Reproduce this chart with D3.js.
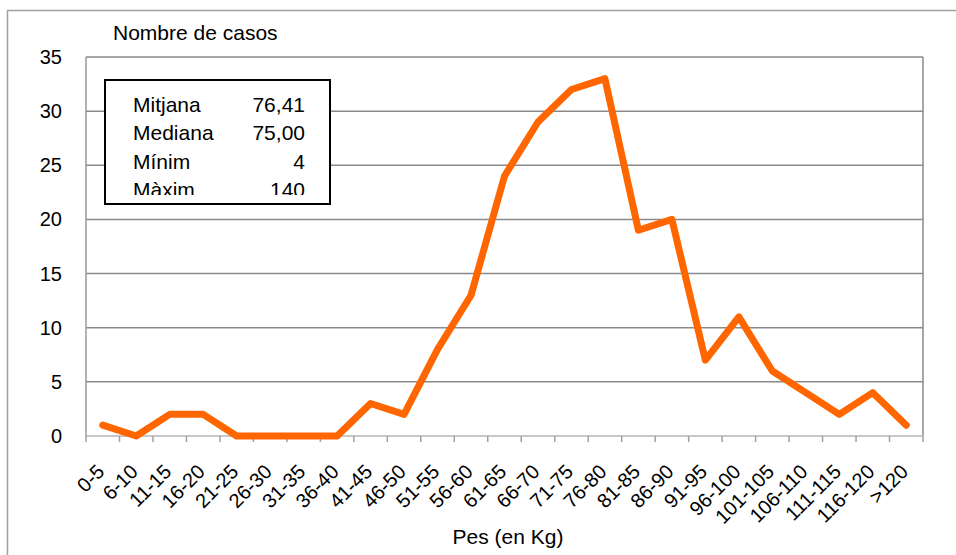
<!DOCTYPE html>
<html>
<head>
<meta charset="utf-8">
<script src="https://cdn.jsdelivr.net/npm/d3@7/dist/d3.min.js"></script>
<style>
  html, body { margin: 0; padding: 0; background: #fff; }
  svg { display: block; font-family: "Liberation Sans", Arial, sans-serif; }
</style>
</head>
<body>
<svg id="chart" width="956" height="555"></svg>
<script>
// Weight classes (kg) and number of cases in each
const categories = ["0-5","6-10","11-15","16-20","21-25","26-30","31-35","36-40","41-45","46-50",
  "51-55","56-60","61-65","66-70","71-75","76-80","81-85","86-90","91-95","96-100",
  "101-105","106-110","111-115","116-120",">120"];
const cases = [1,0,2,2,0,0,0,0,3,2,8,13,24,29,32,33,19,20,7,11,6,4,2,4,1];
const yTicks = [0,5,10,15,20,25,30,35];

// Summary statistics shown in the inset box
const statLabels = ["Mitjana","Mediana","Mínim","Màxim"];
const statValues = ["76,41","75,00","4","140"];

const svg = d3.select("#chart");
const plot = { left: 86, right: 923, top: 57, bottom: 436 };

// outer chart frame
svg.append("rect")
  .attr("x", 7.5).attr("y", 10.5).attr("width", 960).attr("height", 560)
  .attr("fill", "none").attr("stroke", "#a0a0a0").attr("stroke-width", 1.5);

const x = d3.scaleBand().domain(categories).range([plot.left, plot.right]).padding(0);
const y = d3.scaleLinear().domain([0, 35]).range([plot.bottom, plot.top]);

// horizontal gridlines
svg.append("g").selectAll("line").data(yTicks.filter(d => d > 0)).join("line")
  .attr("x1", plot.left).attr("x2", plot.right)
  .attr("y1", d => y(d)).attr("y2", d => y(d))
  .attr("stroke", "#8a8a8a").attr("stroke-width", 1.5);

// right border of the plot area
svg.append("line")
  .attr("x1", plot.right).attr("x2", plot.right).attr("y1", plot.top).attr("y2", plot.bottom)
  .attr("stroke", "#8a8a8a").attr("stroke-width", 1.5);

// left axis line
svg.append("line")
  .attr("x1", plot.left).attr("x2", plot.left).attr("y1", plot.top).attr("y2", plot.bottom + 0.5)
  .attr("stroke", "#9a9a9a").attr("stroke-width", 1.5);

// y tick labels
svg.append("g").selectAll("text").data(yTicks).join("text")
  .attr("x", 62).attr("y", d => y(d) + 7)
  .attr("text-anchor", "end").attr("font-size", 20).attr("fill", "#000")
  .text(d => d);

// bottom axis with ticks at class boundaries
const bounds = categories.map(c => x(c)).concat([plot.right]);
svg.append("line")
  .attr("x1", plot.left).attr("x2", plot.right).attr("y1", plot.bottom).attr("y2", plot.bottom)
  .attr("stroke", "#b5b5b5").attr("stroke-width", 1.5);
svg.append("g").selectAll("line").data(bounds).join("line")
  .attr("x1", d => d).attr("x2", d => d)
  .attr("y1", plot.bottom).attr("y2", plot.bottom + 6)
  .attr("stroke", "#a0a0a0").attr("stroke-width", 1.5);

// rotated category labels
svg.append("g").selectAll("text").data(categories).join("text")
  .attr("transform", d => `translate(${x(d) + x.bandwidth() / 2 + 3},${plot.bottom + 37}) rotate(-45)`)
  .attr("text-anchor", "end").attr("font-size", 20).attr("fill", "#000")
  .text(d => d);

// data line
const line = d3.line()
  .x((d, i) => x(categories[i]) + x.bandwidth() / 2)
  .y(d => y(d));
svg.append("path")
  .datum(cases)
  .attr("d", line)
  .attr("fill", "none").attr("stroke", "#ff6600").attr("stroke-width", 7)
  .attr("stroke-linejoin", "round").attr("stroke-linecap", "round");

// axis titles
svg.append("text").attr("x", 113).attr("y", 40)
  .attr("font-size", 21).attr("fill", "#000").text("Nombre de casos");
svg.append("text").attr("x", 508).attr("y", 544).attr("text-anchor", "middle")
  .attr("font-size", 21).attr("fill", "#000").text("Pes (en Kg)");

// statistics box (content clipped at its lower edge)
const box = { x: 105, y: 80, w: 225, h: 124 };
svg.append("defs").append("clipPath").attr("id", "boxClip")
  .append("rect").attr("x", box.x).attr("y", box.y).attr("width", box.w).attr("height", 115);
svg.append("rect")
  .attr("x", box.x).attr("y", box.y).attr("width", box.w).attr("height", box.h)
  .attr("fill", "#fff").attr("stroke", "#000").attr("stroke-width", 2);
const stats = svg.append("g").attr("clip-path", "url(#boxClip)");
stats.selectAll("text.lbl").data(statLabels).join("text").attr("class", "lbl")
  .attr("x", 133).attr("y", (d, i) => 112 + i * 28.4)
  .attr("font-size", 21).attr("fill", "#000").text(d => d);
stats.selectAll("text.val").data(statValues).join("text").attr("class", "val")
  .attr("x", 305).attr("y", (d, i) => 112 + i * 28.4)
  .attr("text-anchor", "end").attr("font-size", 21).attr("fill", "#000").text(d => d);
</script>
</body>
</html>
